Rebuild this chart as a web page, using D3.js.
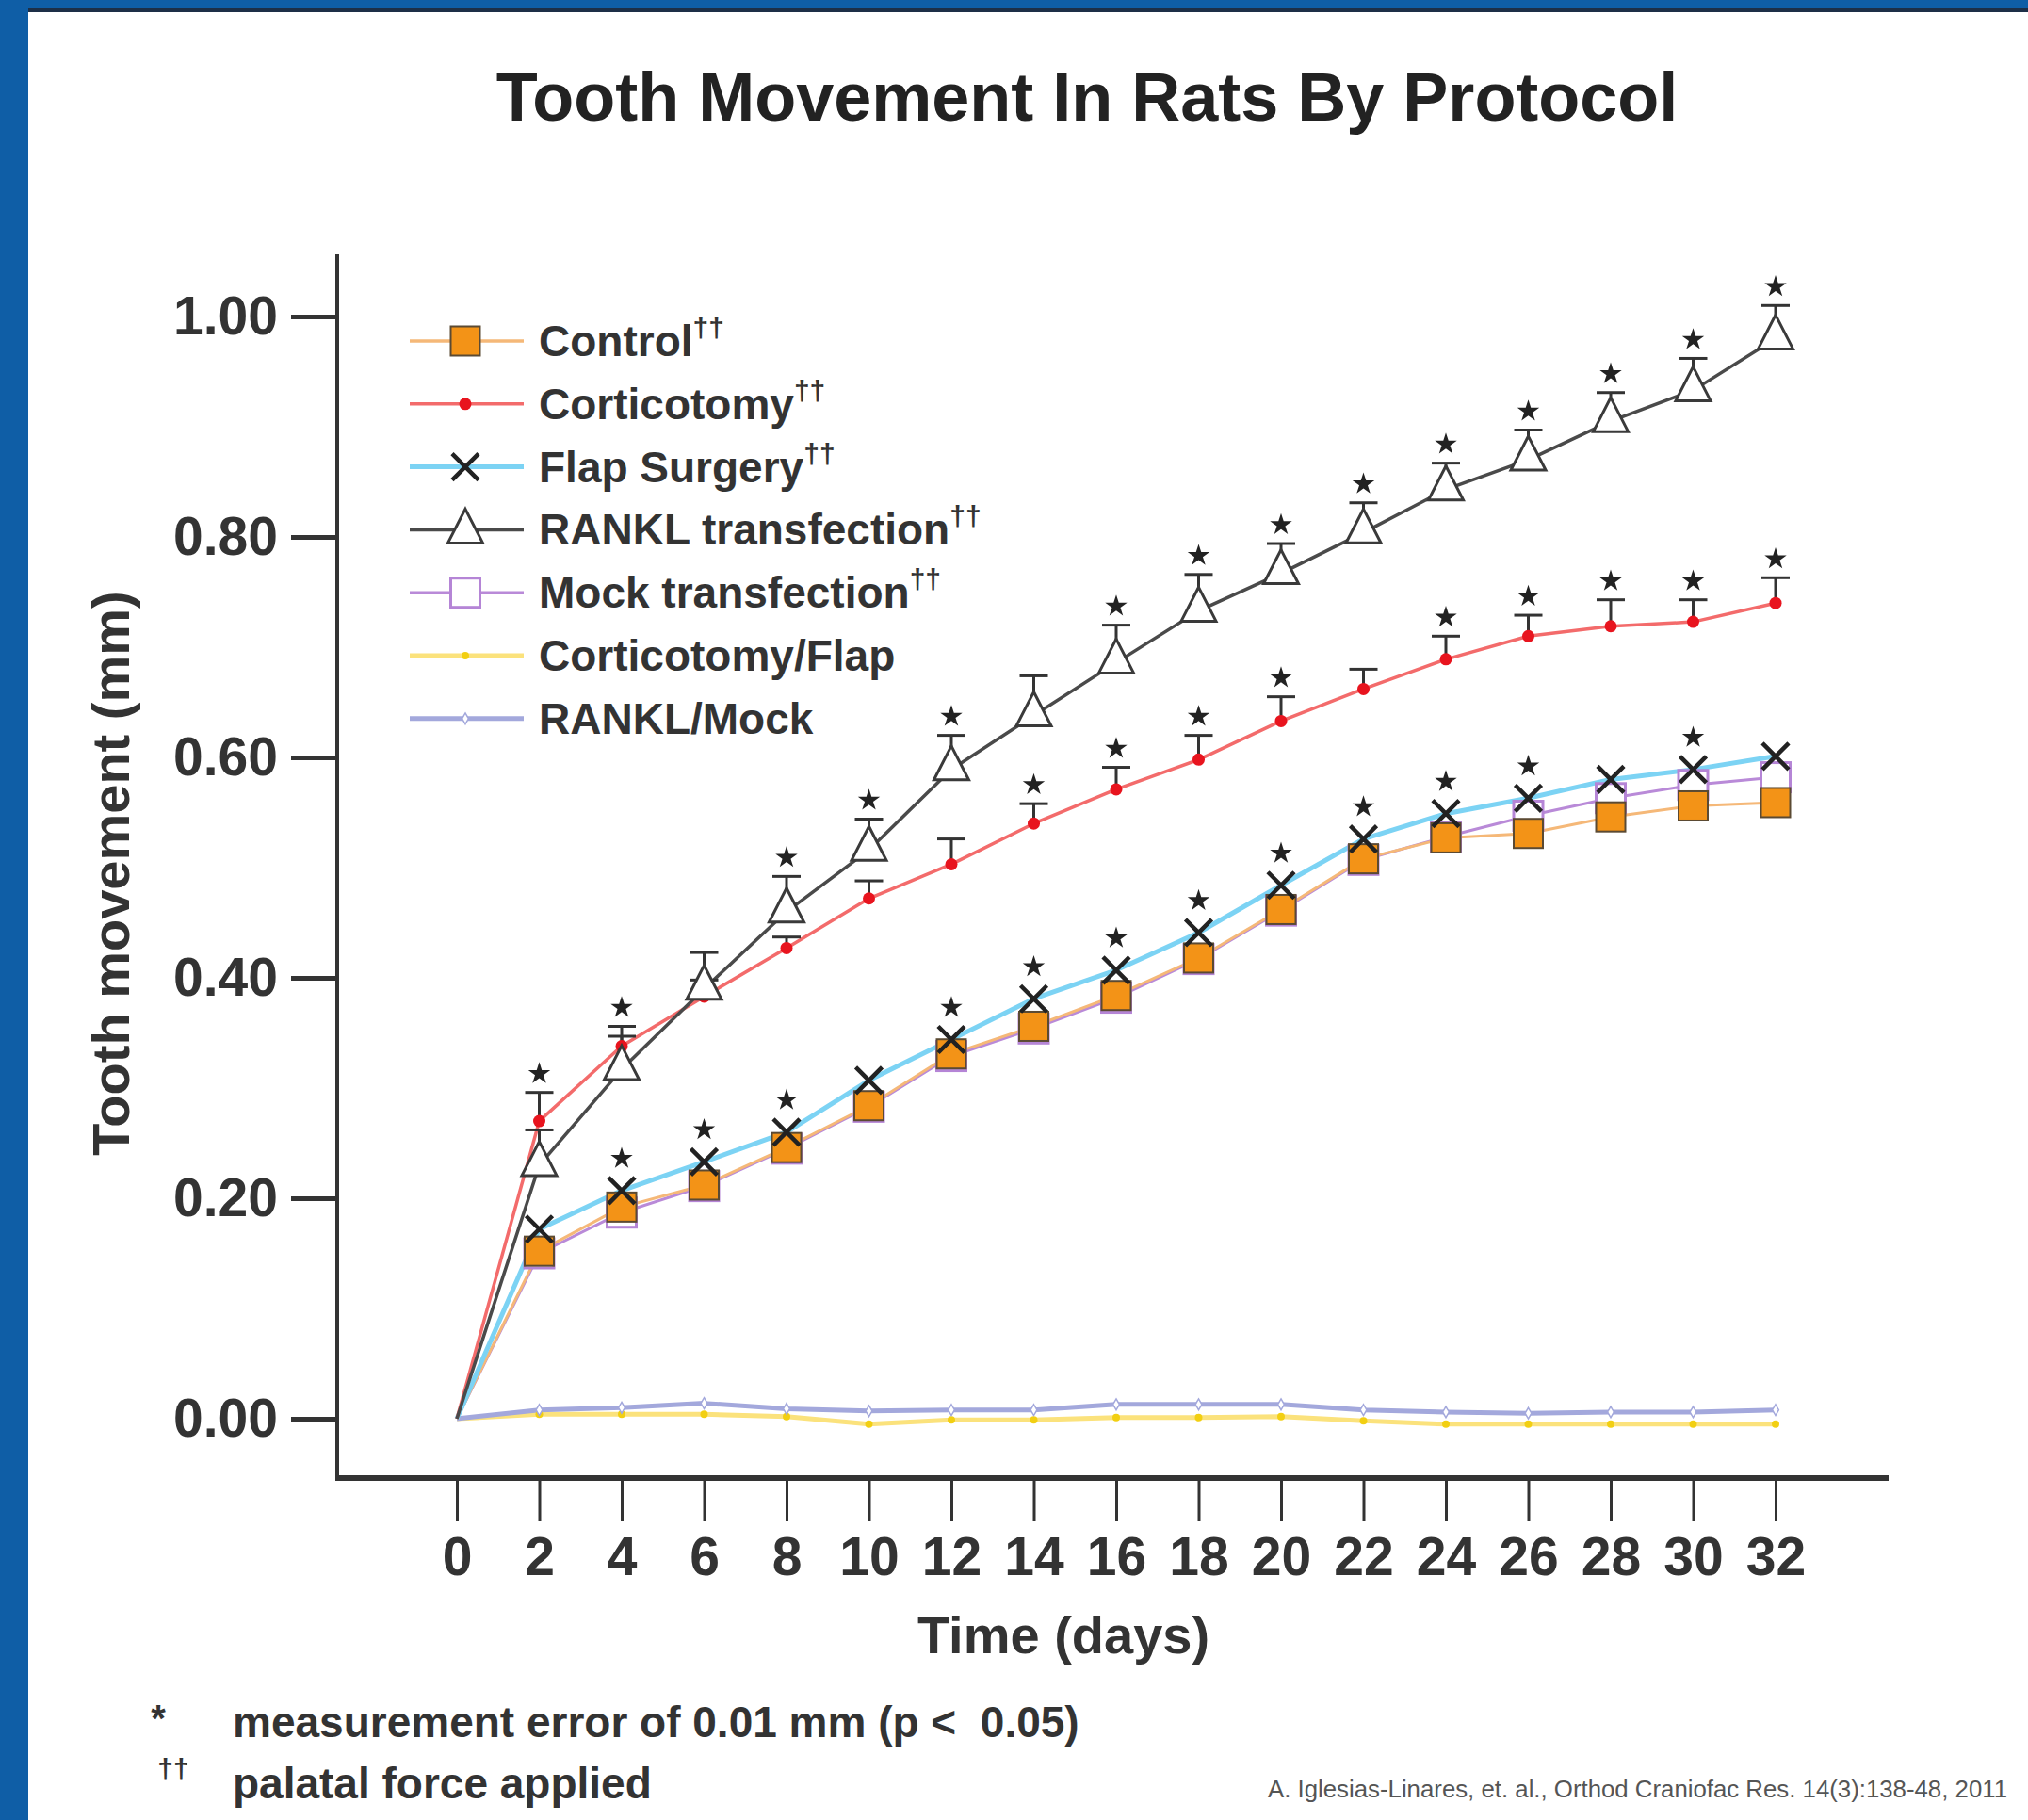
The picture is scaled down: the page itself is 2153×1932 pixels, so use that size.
<!DOCTYPE html>
<html><head><meta charset="utf-8">
<script src="https://cdn.jsdelivr.net/npm/d3@7"></script>
<style>body{margin:0;background:#fff;} text{font-family:"Liberation Sans",Arial,Helvetica,sans-serif;}</style>
</head><body><svg id="chart" width="2153" height="1932"></svg>
<script>
// ---------- data ----------
const days = [0,2,4,6,8,10,12,14,16,18,20,22,24,26,28,30,32];
const yTicks = [0, 0.2, 0.4, 0.6, 0.8, 1.0];
const control     = [0,0.152,0.192,0.212,0.246,0.284,0.331,0.356,0.384,0.418,0.462,0.508,0.527,0.531,0.546,0.556,0.559];
const mock        = [0,0.150,0.187,0.211,0.245,0.283,0.329,0.354,0.382,0.417,0.461,0.507,0.528,0.547,0.563,0.575,0.582];
const flap        = [0,0.172,0.207,0.233,0.260,0.307,0.344,0.381,0.407,0.441,0.484,0.526,0.549,0.563,0.580,0.589,0.601];
const cortico     = [0,0.270,0.338,0.383,0.427,0.472,0.503,0.540,0.571,0.598,0.633,0.662,0.689,0.710,0.719,0.723,0.740];
const rankl       = [0,0.230,0.317,0.390,0.460,0.516,0.589,0.638,0.686,0.733,0.767,0.804,0.843,0.870,0.905,0.933,0.980];
const corticoFlap = [0,0.004,0.004,0.004,0.002,-0.005,-0.001,-0.001,0.001,0.001,0.002,-0.002,-0.005,-0.005,-0.005,-0.005,-0.005];
const ranklMock   = [0,0.008,0.010,0.014,0.009,0.007,0.008,0.008,0.013,0.013,0.013,0.008,0.006,0.005,0.006,0.006,0.008];
const corticoErr  = [0,0.026,0.018,0.015,0.010,0.016,0.023,0.018,0.020,0.022,0.022,0.018,0.021,0.019,0.024,0.020,0.023];
const ranklErr    = [0,0.032,0.030,0.033,0.032,0.028,0.031,0.036,0.034,0.033,0.027,0.027,0.024,0.027,0.026,0.029,0.030];
const corticoStarDays = [2,4,14,16,18,20,24,26,28,30,32];
const ranklStarDays   = [8,10,12,16,18,20,22,24,26,28,30,32];
const flapStarDays    = [4,6,8,12,14,16,18,20,22,24,26,30];
const legendLabels = ["Control","Corticotomy","Flap Surgery","RANKL transfection","Mock transfection","Corticotomy/Flap","RANKL/Mock"];
const legendDagger = [true,true,true,true,true,false,false];
const titleText = "Tooth Movement In Rats By Protocol";
const xLabel = "Time (days)";
const yLabel = "Tooth movement (mm)";
const footnote1 = "measurement error of 0.01 mm (p <  0.05)";
const footnote2 = "palatal force applied";
const citation = "A. Iglesias-Linares, et. al., Orthod Craniofac Res. 14(3):138-48, 2011";

// ---------- setup ----------
const svg = d3.select("#chart");
svg.append("rect").attr("width",2153).attr("height",1932).attr("fill","#fff");
// slide frame
svg.append("rect").attr("x",0).attr("y",0).attr("width",2153).attr("height",13).attr("fill","#0f5ea6");
svg.append("rect").attr("x",0).attr("y",8).attr("width",2153).attr("height",5).attr("fill","#1d2f47");
svg.append("rect").attr("x",0).attr("y",0).attr("width",30).attr("height",1932).attr("fill","#0f5ea6");

const x = d3.scaleLinear().domain([0,32]).range([485,1885]);
const y = d3.scaleLinear().domain([0,1]).range([1506,336]);

// title
svg.append("text").attr("x",1154).attr("y",128).attr("text-anchor","middle")
  .attr("font-size",72).attr("font-weight","bold").attr("fill","#222").text(titleText);

// axes
const yAxis = svg.append("g").attr("transform","translate(358,0)")
  .call(d3.axisLeft(y).tickValues(yTicks).tickSize(49).tickPadding(14).tickFormat(d3.format(".2f")));
yAxis.select(".domain").remove();
yAxis.selectAll(".tick line").attr("stroke","#333").attr("stroke-width",5);
yAxis.selectAll(".tick text").attr("font-size",57).attr("font-weight","bold").attr("fill","#333")
  .attr("font-family","Liberation Sans, Arial, sans-serif");

const xAxis = svg.append("g").attr("transform","translate(0,1569)")
  .call(d3.axisBottom(x).tickValues(days).tickSize(46).tickPadding(17).tickFormat(d3.format("d")));
xAxis.select(".domain").remove();
xAxis.selectAll(".tick line").attr("stroke","#333").attr("stroke-width",3);
xAxis.selectAll(".tick text").attr("font-size",57).attr("font-weight","bold").attr("fill","#333")
  .attr("font-family","Liberation Sans, Arial, sans-serif");

svg.append("line").attr("x1",358).attr("x2",358).attr("y1",270).attr("y2",1572)
  .attr("stroke","#333").attr("stroke-width",4);
svg.append("line").attr("x1",356).attr("x2",2005).attr("y1",1569).attr("y2",1569)
  .attr("stroke","#333").attr("stroke-width",6);

svg.append("text").attr("transform","translate(137,927) rotate(-90)").attr("text-anchor","middle")
  .attr("font-size",56).attr("font-weight","bold").attr("fill","#333").text(yLabel);
svg.append("text").attr("x",1129).attr("y",1755).attr("text-anchor","middle")
  .attr("font-size",56).attr("font-weight","bold").attr("fill","#333").text(xLabel);

// ---------- series ----------
const line = d3.line().x((d,i)=>x(days[i])).y(d=>y(d));
const plot = svg.append("g");
function drawLine(vals, color, w){
  plot.append("path").datum(vals).attr("d",line).attr("fill","none")
    .attr("stroke",color).attr("stroke-width",w).attr("stroke-linejoin","round");
}
drawLine(corticoFlap, "#fbe27c", 5);
drawLine(ranklMock, "#a3a8dc", 5);
drawLine(mock, "#b98ad8", 3);
drawLine(control, "#f5b878", 3);
drawLine(flap, "#7cd3f4", 5);
drawLine(cortico, "#f36b6b", 3.5);
drawLine(rankl, "#4a4a4a", 3.5);

const pts = v => v.map((d,i)=>({d:days[i], v:d})).filter(p=>p.d>0);

// small markers on the near-zero lines
plot.selectAll(".cf").data(pts(corticoFlap)).join("circle")
  .attr("cx",p=>x(p.d)).attr("cy",p=>y(p.v)).attr("r",4).attr("fill","#f2cf12");
plot.selectAll(".rm").data(pts(ranklMock)).join("path")
  .attr("transform",p=>`translate(${x(p.d)},${y(p.v)})`)
  .attr("d",d3.symbol(d3.symbolDiamond,40)()).attr("fill","#fff").attr("stroke","#a3a8dc").attr("stroke-width",1.5);

// error bars
function errBars(vals, errs){
  const g = plot.append("g").attr("stroke","#333").attr("stroke-width",3);
  pts(vals).forEach(p=>{
    const e = errs[days.indexOf(p.d)];
    const top = y(p.v+e);
    g.append("line").attr("x1",x(p.d)).attr("x2",x(p.d)).attr("y1",y(p.v)).attr("y2",top);
    g.append("line").attr("x1",x(p.d)-15).attr("x2",x(p.d)+15).attr("y1",top).attr("y2",top);
  });
}
errBars(cortico, corticoErr);
errBars(rankl, ranklErr);

// stars
const starPath = d3.symbol(d3.symbolStar, 170)();
function stars(dayList, yFn){
  plot.append("g").selectAll("path").data(dayList).join("path")
    .attr("transform",d=>`translate(${x(d)},${yFn(d)})`).attr("d",starPath).attr("fill","#222");
}
stars(corticoStarDays, d=>{const i=days.indexOf(d); return y(cortico[i]+corticoErr[i])-20;});
stars(ranklStarDays, d=>{const i=days.indexOf(d); return y(rankl[i]+ranklErr[i])-20;});
stars(flapStarDays, d=>{const i=days.indexOf(d); return y(flap[i])-34;});

// markers
function squareM(g, cx, cy, fill, stroke, sw){
  g.append("rect").attr("x",cx-15.5).attr("y",cy-15.5).attr("width",31).attr("height",31)
    .attr("fill",fill).attr("stroke",stroke).attr("stroke-width",sw);
}
function crossM(g, cx, cy){
  g.append("path").attr("d",`M${cx-14},${cy-14}L${cx+14},${cy+14}M${cx-14},${cy+14}L${cx+14},${cy-14}`)
    .attr("stroke","#222").attr("stroke-width",4.5).attr("fill","none");
}
function triM(g, cx, cy){
  g.append("path").attr("d",`M${cx},${cy-25}L${cx+18.5},${cy+11}L${cx-18.5},${cy+11}Z`)
    .attr("fill","#fff").attr("stroke","#3a3a3a").attr("stroke-width",3).attr("stroke-linejoin","miter");
}
function dotM(g, cx, cy){
  g.append("circle").attr("cx",cx).attr("cy",cy).attr("r",6.5).attr("fill","#e8141e");
}
const mk = plot.append("g");
pts(mock).forEach(p=>squareM(mk, x(p.d), y(p.v), "#fff", "#b585d6", 3));
pts(control).forEach(p=>squareM(mk, x(p.d), y(p.v), "#f39317", "#5b4a33", 2));
pts(flap).forEach(p=>crossM(mk, x(p.d), y(p.v)));
pts(cortico).forEach(p=>dotM(mk, x(p.d), y(p.v)));
pts(rankl).forEach(p=>triM(mk, x(p.d), y(p.v)));

// ---------- legend ----------
const lg = svg.append("g");
const legColors = ["#f5b878","#f36b6b","#7cd3f4","#4a4a4a","#b98ad8","#fbe27c","#a3a8dc"];
legendLabels.forEach((lab,i)=>{
  const cy = 362 + i*66.8;
  lg.append("line").attr("x1",435).attr("x2",556).attr("y1",cy).attr("y2",cy)
    .attr("stroke",legColors[i]).attr("stroke-width",i===2||i>=5?5:3.5);
  if(i===0) squareM(lg,494,cy,"#f39317","#5b4a33",2);
  if(i===1) dotM(lg,494,cy);
  if(i===2) crossM(lg,494,cy);
  if(i===3) triM(lg,494,cy+3);
  if(i===4) squareM(lg,494,cy,"#fff","#b585d6",3);
  if(i===5) lg.append("circle").attr("cx",494).attr("cy",cy).attr("r",4).attr("fill","#f2cf12");
  if(i===6) lg.append("path").attr("transform",`translate(494,${cy})`).attr("d",d3.symbol(d3.symbolDiamond,40)())
    .attr("fill","#fff").attr("stroke","#a3a8dc").attr("stroke-width",1.5);
  const t = lg.append("text").attr("x",572).attr("y",cy+16).attr("font-size",46)
    .attr("font-weight","bold").attr("fill","#333").text(lab);
  if(legendDagger[i]) t.append("tspan").attr("dy",-20).attr("font-size",30).text("††");
});

// ---------- footnotes ----------
svg.append("text").attr("x",168).attr("y",1838).attr("text-anchor","middle").attr("font-size",40)
  .attr("font-weight","bold").attr("fill","#333").text("*");
svg.append("text").attr("x",247).attr("y",1844).attr("font-size",46).attr("font-weight","bold")
  .attr("fill","#333").style("white-space","pre").text(footnote1);
svg.append("text").attr("x",184).attr("y",1888).attr("text-anchor","middle").attr("font-size",30)
  .attr("font-weight","bold").attr("fill","#333").text("††");
svg.append("text").attr("x",247).attr("y",1909).attr("font-size",46).attr("font-weight","bold")
  .attr("fill","#333").text(footnote2);
svg.append("text").attr("x",1346).attr("y",1908).attr("font-size",26).attr("fill","#555")
  .attr("textLength",785).attr("lengthAdjust","spacingAndGlyphs").text(citation);
</script>
</body></html>
